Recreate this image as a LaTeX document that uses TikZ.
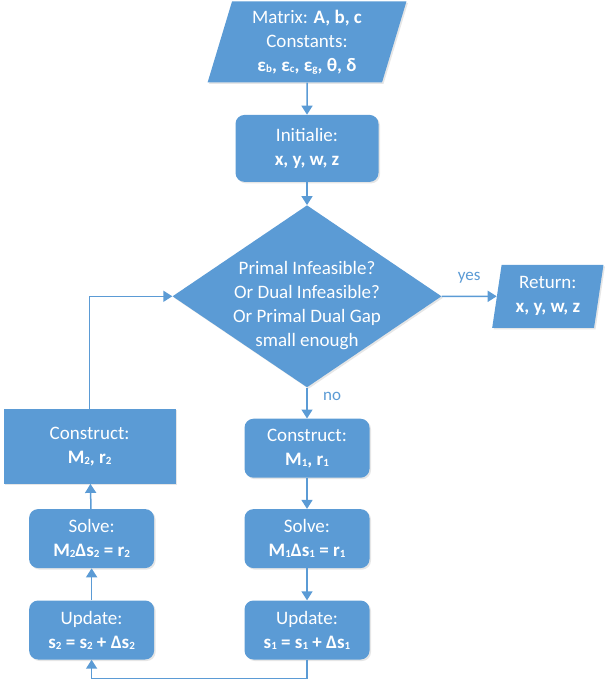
\documentclass[tikz,border=0pt]{standalone}
\usepackage{fontspec}
\setmainfont{Carlito}
\usetikzlibrary{positioning,shadows,arrows.meta,shapes.geometric}
\definecolor{boxblue}{RGB}{91,155,213}
\newcommand{\lo}[1]{\raisebox{-0.1ex}{\fontsize{11}{11}\selectfont #1}}

\begin{document}
\begin{tikzpicture}[
    x=1pt, y=1pt,
    font=\fontsize{19}{24}\selectfont,
    block/.style={rectangle, rounded corners=9pt, fill=boxblue, draw=none, text=white, align=center,
        minimum width=125pt, minimum height=59pt,
        drop shadow={opacity=0.2, shadow xshift=1.5pt, shadow yshift=-1.5pt}},
    io/.style={trapezium, trapezium left angle=75, trapezium right angle=105, trapezium stretches=true,
        fill=boxblue, draw=none, text=white, align=center,
        drop shadow={opacity=0.2, shadow xshift=1.5pt, shadow yshift=-1.5pt}},
    decision/.style={diamond, aspect=1.48, fill=boxblue, draw=none, text=white, align=center, inner sep=-15pt,
        minimum width=269pt, minimum height=182pt,
        drop shadow={opacity=0.2, shadow xshift=1.5pt, shadow yshift=-1.5pt}},
    flow/.style={draw=boxblue, line width=1.5pt, -{Triangle[width=11pt,length=9pt]}},
    answer/.style={text=boxblue, font=\fontsize{17}{20}\selectfont}
]
\useasboundingbox (0,0) rectangle (604,-684);

\node [io, minimum width=199pt, minimum height=81pt] (Input) at (307,-42)
    {Matrix: \textbf{A, b, c}\\Constants:\\\textbf{ε\lo{b}, ε\lo{c}, ε\lo{g}, θ, δ}};
\node [block, below=32pt of Input, minimum width=143pt, minimum height=67pt] (Init)
    {Initialie:\\\textbf{x, y, w, z}};
\node [decision, below=23pt of Init] (Check)
    {\rule{0pt}{32pt}Primal Infeasible?\\Or Dual Infeasible?\\Or Primal Dual Gap\\small enough};
\node [io, trapezium left angle=81, trapezium right angle=99, right=55pt of Check,
    minimum width=112pt, minimum height=63pt] (Return)
    {Return:\\\textbf{x, y, w, z}};

\node [block, below=31pt of Check] (ConA) {Construct:\\\textbf{M\lo{1}, r\lo{1}}};
\node [block, below=31pt of ConA] (SolA) {Solve:\\\textbf{M\lo{1}Δs\lo{1} = r\lo{1}}};
\node [block, below=32pt of SolA] (UpdA) {Update:\\\textbf{s\lo{1} = s\lo{1} + Δs\lo{1}}};

\node [block, left=90pt of UpdA] (UpdB) {Update:\\\textbf{s\lo{2} = s\lo{2} + Δs\lo{2}}};
\node [block, above=32pt of UpdB] (SolB) {Solve:\\\textbf{M\lo{2}Δs\lo{2} = r\lo{2}}};
\node [block, sharp corners, above=25pt of SolB, xshift=-2pt, minimum width=172pt, minimum height=75pt] (ConB)
    {Construct:\\\textbf{M\lo{2}, r\lo{2}}};

\draw [flow] (Input) -- (Init);
\draw [flow] (Init) -- (Check);
\draw [flow] (Check) -- node [answer, above, yshift=9pt] {yes} (Return);
\draw [flow] (Check) -- node [answer, right, pos=0.3, xshift=12pt] {no} (ConA);
\draw [flow] (ConA) -- (SolA);
\draw [flow] (SolA) -- (UpdA);
\draw [flow] (UpdA.south) -- ++(0,-19) -| (UpdB.south);
\draw [flow] (UpdB) -- (SolB);
\draw [flow] (SolB) -- (ConB);
\draw [flow] (ConB.north) |- (Check.west);

\end{tikzpicture}
\end{document}
